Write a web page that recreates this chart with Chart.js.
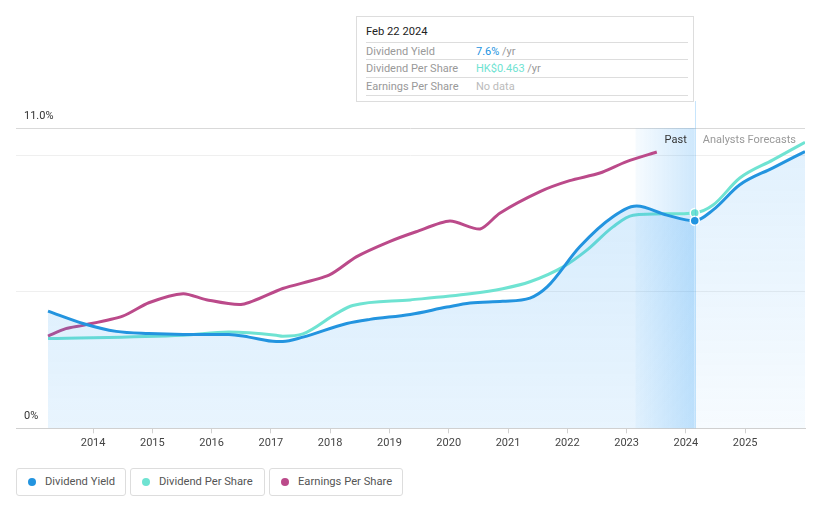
<!DOCTYPE html>
<html><head><meta charset="utf-8">
<script src="https://cdn.jsdelivr.net/npm/chart.js@4.4.1/dist/chart.umd.min.js"></script>
<style>
body{margin:0;background:#fff;font-family:Roboto,"Noto Sans",sans-serif;}
#wrap{position:relative;width:821px;height:508px;overflow:hidden;background:#fff}
#c{position:absolute;left:0;top:0}
#tip{position:absolute;left:356px;top:16px;width:338px;height:86px;border:1px solid #ddd;background:#fff;box-sizing:border-box}
#tip .t{position:absolute;left:9px;top:8px;font-size:11.2px;color:#222}
#tip .row{position:absolute;left:9px;width:322px;height:17px;font-size:11px;color:#999;border-top:1px solid #ddd;line-height:17px}
#tip .row span.l{position:absolute;left:0}
#tip .row span.v{position:absolute;left:110px}
#legend .b{position:absolute;top:468px;height:28px;border:1px solid #ddd;border-radius:3px;box-sizing:border-box;font-size:11.2px;color:#555;line-height:26px}
#legend .b i{position:absolute;left:11px;top:9px;width:8px;height:8px;border-radius:50%}
#legend .b span{position:absolute;left:28px}
</style></head><body>
<div id="wrap">
<canvas id="c" width="821" height="460" style="width:821px;height:460px"></canvas>
<div id="tip">
 <div class="t">Feb 22 2024</div>
 <div class="row" style="top:25px"><span class="l">Dividend Yield</span><span class="v"><b style="font-weight:normal;color:#2394df">7.6%</b> /yr</span></div>
 <div class="row" style="top:42px"><span class="l">Dividend Per Share</span><span class="v"><b style="font-weight:normal;color:#6fe3d2">HK$0.463</b> /yr</span></div>
 <div class="row" style="top:60px;border-bottom:1px solid #ddd"><span class="l">Earnings Per Share</span><span class="v" style="color:#bbb">No data</span></div>
</div>
<div id="legend">
 <div class="b" style="left:16px;width:110px"><i style="background:#2394df"></i><span>Dividend Yield</span></div>
 <div class="b" style="left:130px;width:135px"><i style="background:#6fe3d2"></i><span>Dividend Per Share</span></div>
 <div class="b" style="left:269px;width:134px"><i style="background:#bb4a8a"></i><span>Earnings Per Share</span></div>
</div>
</div>
<script>
// ---- data ----
const yieldDates = [2013.24,2013.83,2014.39,2014.94,2015.52,2016.29,2016.63,2017.09,2017.20,2017.54,2018.28,2018.67,2019.35,2019.97,2020.36,2020.91,2021.37,2021.66,2022.21,2022.77,2023.17,2023.68,2024.15,2024.46,2024.91,2025.47,2026.01];
const yieldValues = [4.29,3.84,3.55,3.47,3.44,3.44,3.34,3.18,3.18,3.34,3.84,3.99,4.17,4.44,4.59,4.65,4.77,5.18,6.65,7.75,8.14,7.81,7.60,8.00,8.92,9.54,10.14];
const dpsDates = [2013.24,2015.52,2016.29,2017.09,2017.20,2017.54,2018.11,2018.38,2019.35,2020.36,2020.91,2021.37,2021.93,2022.33,2022.77,2023.11,2023.68,2024.15,2024.46,2024.91,2025.47,2026.01];
const dpsValues = [0.193,0.200,0.207,0.200,0.198,0.203,0.247,0.264,0.276,0.289,0.300,0.315,0.347,0.383,0.433,0.458,0.461,0.463,0.480,0.538,0.577,0.615];
const epsDates = [2013.24,2013.54,2013.83,2014.50,2014.94,2015.52,2015.91,2016.52,2017.20,2017.98,2018.44,2018.99,2019.45,2020.02,2020.53,2020.86,2021.54,2022.04,2022.55,2023.00,2023.51];
const epsValues = [0.338,0.365,0.377,0.411,0.460,0.493,0.471,0.454,0.512,0.561,0.628,0.683,0.720,0.759,0.730,0.788,0.867,0.907,0.935,0.977,1.012];
const yearTicks = [2014,2015,2016,2017,2018,2019,2020,2021,2022,2023,2024,2025];
const yGridTicks = [0,5,10,11];
const cursorDate = 2024.15;
const pastStart = 2023.15;
// --------------

const pts = (xs, ys) => xs.map((x, i) => ({x, y: ys[i]}));
const BLUE = '#2394df', TEAL = '#6fe3d2', MAG = '#bb4a8a';

const bgPlugin = {
  id: 'bg',
  beforeDatasetsDraw(chart) {
    const {ctx, chartArea: a, scales: {x}} = chart;
    const x0 = x.getPixelForValue(pastStart), x1 = x.getPixelForValue(cursorDate);
    const g = ctx.createLinearGradient(x0, 0, x1, 0);
    g.addColorStop(0, 'rgba(33,150,243,0.04)');
    g.addColorStop(1, 'rgba(33,150,243,0.22)');
    ctx.save();
    ctx.fillStyle = g;
    ctx.fillRect(x0, a.top, x1 - x0, a.bottom - a.top);
    ctx.restore();
  },
  afterDatasetsDraw(chart) {
    const {ctx, chartArea: a, scales: {x}} = chart;
    const x1 = x.getPixelForValue(cursorDate);
    ctx.save();
    ctx.strokeStyle = 'rgba(33,150,243,0.25)';
    ctx.lineWidth = 1;
    ctx.beginPath();
    ctx.moveTo(Math.round(x1) + 0.5, 101);
    ctx.lineTo(Math.round(x1) + 0.5, a.bottom);
    ctx.stroke();
    ctx.font = '11px Roboto, sans-serif';
    ctx.textBaseline = 'middle';
    ctx.textAlign = 'right';
    ctx.fillStyle = '#333';
    ctx.fillText('Past', x1 - 8, 140);
    ctx.textAlign = 'left';
    ctx.fillStyle = '#999';
    ctx.fillText('Analysts Forecasts', x1 + 8, 140);
    ctx.fillStyle = '#333';
    ctx.fillText('11.0%', 24, 116);
    ctx.fillText('0%', 24, 416);
    ctx.restore();
  }
};

const ctx = document.getElementById('c').getContext('2d');
const fillPast = ctx.createLinearGradient(0, 128, 0, 428);
fillPast.addColorStop(0, 'rgba(33,150,243,0.20)');
fillPast.addColorStop(1, 'rgba(33,150,243,0.10)');
const fillFc = ctx.createLinearGradient(0, 128, 0, 428);
fillFc.addColorStop(0, 'rgba(33,150,243,0.14)');
fillFc.addColorStop(1, 'rgba(33,150,243,0.04)');

const dotR = c => (c.raw && c.raw.x === cursorDate) ? 4.5 : 0;

new Chart(ctx, {
  type: 'line',
  data: {
    datasets: [
      {label: 'Dividend Yield', data: pts(yieldDates, yieldValues), yAxisID: 'y', borderColor: BLUE, borderWidth: 3,
       backgroundColor: fillPast, fill: 'origin', cubicInterpolationMode: 'monotone',
       pointRadius: dotR, pointBackgroundColor: BLUE, pointBorderColor: '#fff', pointBorderWidth: 1.5,
       segment: {backgroundColor: s => s.p0.parsed.x >= cursorDate ? fillFc : undefined}},
      {label: 'Dividend Per Share', data: pts(dpsDates, dpsValues), yAxisID: 'yDps', borderColor: TEAL, borderWidth: 3,
       fill: false, cubicInterpolationMode: 'monotone',
       pointRadius: dotR, pointBackgroundColor: TEAL, pointBorderColor: '#fff', pointBorderWidth: 1.5},
      {label: 'Earnings Per Share', data: pts(epsDates, epsValues), yAxisID: 'yEps', borderColor: MAG, borderWidth: 3,
       fill: false, tension: 0.25, pointRadius: 0}
    ]
  },
  options: {
    responsive: false, animation: false,
    layout: {padding: {left: 16, right: 16, top: 128, bottom: 7.5}},
    plugins: {legend: {display: false}, tooltip: {enabled: false}},
    scales: {
      x: {type: 'linear', min: 2012.70, max: 2026.01,
          afterBuildTicks: s => { s.ticks = yearTicks.map(v => ({value: v})); },
          ticks: {callback: v => String(v), color: '#444', font: {size: 11, family: 'Roboto'}, padding: 3, maxRotation: 0, autoSkip: false},
          grid: {drawOnChartArea: false, drawTicks: true, tickLength: 5, color: '#d0d0d0'},
          border: {color: '#d0d0d0'}},
      y: {min: 0, max: 11, display: true,
          afterBuildTicks: s => { s.ticks = yGridTicks.map(v => ({value: v})); },
          ticks: {display: false},
          grid: {drawTicks: false, color: c => c.tick.value === 11 ? '#d9d9d9' : (c.tick.value === 0 ? 'rgba(0,0,0,0)' : '#efefef')},
          border: {display: false}},
      yDps: {min: 0, max: 0.6455, display: false},
      yEps: {min: 0, max: 1.1, display: false}
    }
  },
  plugins: [bgPlugin]
});
</script>
</body></html>
